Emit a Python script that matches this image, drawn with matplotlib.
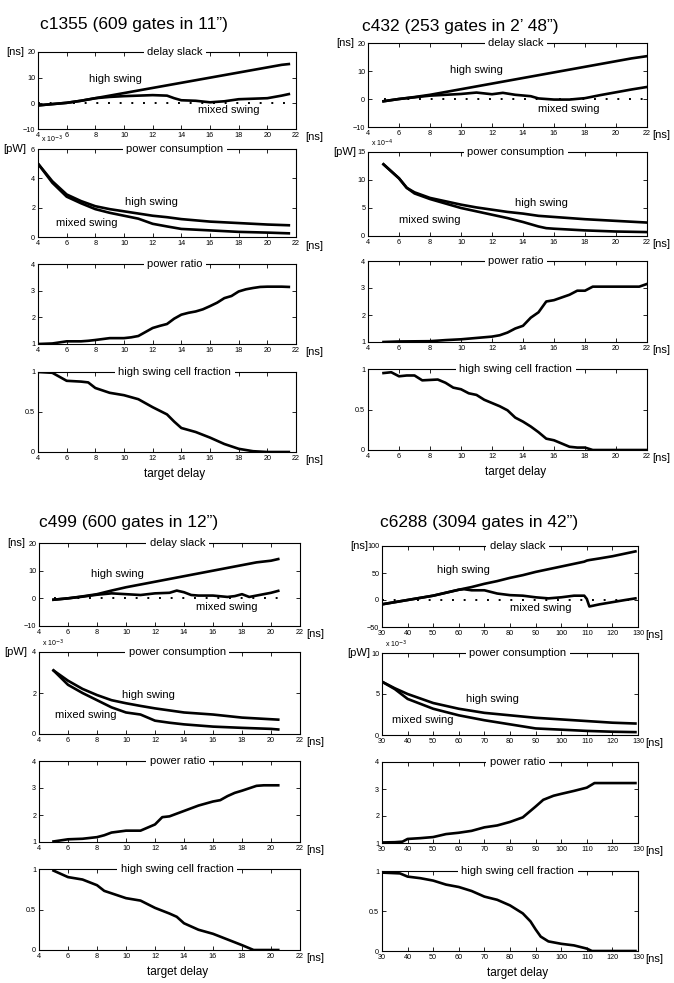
import matplotlib
matplotlib.use('Agg')
import matplotlib.pyplot as plt

plt.rcParams['font.family'] = ['Liberation Sans', 'DejaVu Sans']

# ---- c1355 ----
c1355_slack_x = [4, 5, 6, 7, 8, 9, 10, 11, 12, 13, 13.5, 14, 15, 16, 17, 18, 19, 20, 21, 21.5]
c1355_slack_hi = [-0.8, -0.3, 0.2, 1.0, 2.0, 3.0, 4.0, 5.0, 6.0, 7.0, 7.5, 8.0, 9.0, 10.0, 11.0, 12.0, 13.0, 14.0, 15.0, 15.3]
c1355_slack_mx = [-0.8, -0.3, 0.2, 1.0, 2.0, 2.5, 2.8, 3.0, 3.2, 3.0, 2.0, 1.2, 1.0, 0.4, 0.8, 1.6, 1.8, 2.0, 3.0, 3.6]
c1355_power_x = [4, 5, 6, 7, 8, 9, 10, 11, 12, 13, 14, 16, 18, 20, 21.5]
c1355_power_hi = [5.0, 3.8, 2.9, 2.45, 2.1, 1.9, 1.75, 1.6, 1.45, 1.35, 1.22, 1.05, 0.95, 0.85, 0.8]
c1355_power_mx = [5.0, 3.7, 2.75, 2.3, 1.9, 1.65, 1.45, 1.25, 0.9, 0.72, 0.55, 0.45, 0.35, 0.3, 0.25]
c1355_ratio_x = [4, 5, 6, 7, 7.5, 8, 9, 10, 10.5, 11, 11.5, 12, 12.5, 13, 13.5, 14, 14.5, 15, 15.5,
                 16, 16.5, 17, 17.5, 18, 18.5, 19, 19.5, 20, 21, 21.5]
c1355_ratio = [1.0, 1.02, 1.1, 1.1, 1.12, 1.15, 1.22, 1.22, 1.25, 1.3, 1.45, 1.6, 1.68, 1.75, 1.95, 2.1, 2.17, 2.22, 2.3,
               2.42, 2.55, 2.72, 2.8, 2.97, 3.05, 3.1, 3.14, 3.15, 3.15, 3.14]
c1355_frac_x = [4, 5, 6, 7, 7.5, 8, 9, 10, 11, 12, 13, 13.5, 14, 15, 16, 17, 18, 19, 20, 21.5]
c1355_frac = [1.0, 0.99, 0.89, 0.88, 0.87, 0.8, 0.74, 0.71, 0.66, 0.56, 0.47, 0.38, 0.3, 0.25, 0.18, 0.1, 0.04, 0.01, 0.0, 0.0]

# ---- c432 ----
c432_slack_x = [5, 6, 7, 8, 9, 10, 11, 12, 12.7, 13.5, 14.5, 15, 16, 17, 18, 19, 20, 21, 22]
c432_slack_hi = [-0.8, 0.0, 0.7, 1.5, 2.5, 3.5, 4.5, 5.5, 6.2, 7.0, 8.0, 8.5, 9.5, 10.5, 11.5, 12.5, 13.5, 14.5, 15.3]
c432_slack_mx = [-0.8, 0.0, 0.6, 1.2, 1.5, 1.8, 2.3, 1.7, 2.2, 1.5, 1.0, 0.2, -0.2, -0.2, 0.3, 1.4, 2.4, 3.4, 4.3]
c432_power_x = [5, 6, 6.5, 7, 8, 9, 10, 11, 12, 13, 14, 15, 15.5, 16, 18, 20, 22]
c432_power_hi = [12.8, 10.3, 8.6, 7.8, 6.8, 6.2, 5.6, 5.1, 4.7, 4.3, 4.0, 3.6, 3.5, 3.4, 3.0, 2.7, 2.4]
c432_power_mx = [12.8, 10.3, 8.6, 7.6, 6.6, 5.8, 5.0, 4.4, 3.8, 3.2, 2.5, 1.7, 1.4, 1.3, 1.0, 0.8, 0.7]
c432_ratio_x = [5, 6, 8, 9, 10, 11, 12, 12.5, 13, 13.5, 14, 14.5, 15, 15.5, 16, 17, 17.5, 18, 18.5, 21.5, 22]
c432_ratio = [1.0, 1.02, 1.03, 1.07, 1.1, 1.15, 1.2, 1.25, 1.35, 1.5, 1.6, 1.9, 2.1, 2.5, 2.55, 2.75, 2.9, 2.9, 3.05, 3.05, 3.15]
c432_frac_x = [5, 5.5, 6, 6.5, 7, 7.5, 8.5, 9, 9.5, 10, 10.5, 11, 11.5, 12, 12.5, 13, 13.5, 14,
               14.5, 15, 15.5, 16, 16.5, 17, 17.5, 18, 18.5, 22]
c432_frac = [0.95, 0.96, 0.91, 0.92, 0.92, 0.86, 0.87, 0.83, 0.77, 0.75, 0.7, 0.68, 0.62, 0.58, 0.54, 0.49, 0.4, 0.35,
             0.29, 0.22, 0.14, 0.12, 0.08, 0.04, 0.03, 0.03, 0.0, 0.0]

# ---- c499 ----
c499_slack_x = [5, 6, 7, 8, 9, 10, 11, 12, 13, 13.5, 14, 14.5, 15, 16, 17, 17.5, 18, 18.5, 19, 20, 20.5]
c499_slack_hi = [-0.5, 0.0, 0.7, 1.5, 2.8, 4.0, 5.0, 6.0, 7.0, 7.5, 8.0, 8.5, 9.0, 10.0, 11.0, 11.5, 12.0, 12.5, 13.0, 13.6, 14.2]
c499_slack_mx = [-0.5, 0.0, 0.6, 1.3, 1.8, 1.5, 1.2, 1.8, 2.0, 2.8, 2.2, 1.2, 1.0, 1.0, 0.5, 0.8, 1.5, 0.5, 1.0, 2.0, 2.7]
c499_power_x = [5, 6, 7, 8, 9, 10, 11, 12, 13, 14, 16, 18, 20, 20.5]
c499_power_hi = [3.1, 2.6, 2.2, 1.9, 1.65, 1.5, 1.37, 1.25, 1.15, 1.05, 0.95, 0.8, 0.72, 0.7]
c499_power_mx = [3.1, 2.4, 2.0, 1.65, 1.3, 1.05, 0.95, 0.65, 0.55, 0.47, 0.36, 0.3, 0.25, 0.22]
c499_ratio_x = [5, 6, 7, 8, 8.5, 9, 10, 11, 12, 12.5, 13, 14, 15, 16, 16.5, 17, 17.5, 18, 19, 19.5, 20.5]
c499_ratio = [1.02, 1.1, 1.12, 1.18, 1.25, 1.35, 1.42, 1.42, 1.65, 1.92, 1.95, 2.15, 2.35, 2.5, 2.55, 2.7, 2.82, 2.9, 3.08, 3.1, 3.1]
c499_frac_x = [5, 6, 7, 8, 8.5, 9, 10, 11, 12, 13, 13.5, 14, 15, 16, 17, 18, 18.8, 20.5]
c499_frac = [0.98, 0.9, 0.87, 0.8, 0.73, 0.7, 0.64, 0.61, 0.52, 0.45, 0.41, 0.33, 0.25, 0.2, 0.13, 0.06, 0.0, 0.0]

# ---- c6288 ----
c6288_slack_x = [30, 40, 50, 60, 62, 65, 70, 75, 80, 85, 90, 95, 100, 105, 109, 110, 111, 115, 120, 125, 129]
c6288_slack_hi = [-8, 0, 8, 19, 21, 24, 30, 35, 41, 46, 52, 57, 62, 67, 71, 73, 74, 77, 81, 86, 90]
c6288_slack_mx = [-8, 0, 8, 19, 20, 18, 18, 12, 9, 8, 5, 3, 5, 8, 8, 2, -12, -8, -4, 0, 3]
c6288_power_x = [30, 35, 40, 50, 60, 70, 80, 90, 100, 110, 120, 129]
c6288_power_hi = [6.5, 5.7, 5.0, 3.9, 3.2, 2.7, 2.4, 2.1, 1.9, 1.7, 1.5, 1.4]
c6288_power_mx = [6.5, 5.6, 4.4, 3.2, 2.4, 1.8, 1.3, 0.8, 0.65, 0.5, 0.4, 0.35]
c6288_ratio_x = [30, 35, 38, 40, 45, 50, 55, 60, 65, 70, 75, 80, 85, 90, 93, 97, 100, 105, 110, 113, 129]
c6288_ratio = [1.02, 1.03, 1.05, 1.15, 1.18, 1.22, 1.33, 1.38, 1.45, 1.58, 1.65, 1.78, 1.95, 2.35, 2.6, 2.75, 2.82, 2.93, 3.05, 3.22, 3.22]
c6288_frac_x = [30, 37, 40, 45, 50, 55, 60, 65, 70, 75, 80, 85, 88, 90, 92, 95, 100, 105, 110, 112, 129]
c6288_frac = [0.98, 0.97, 0.93, 0.91, 0.88, 0.83, 0.8, 0.75, 0.68, 0.64, 0.57, 0.47, 0.37, 0.27, 0.18, 0.12, 0.09, 0.07, 0.03, 0.0, 0.0]

W, H = 674, 983

circuits = [
    dict(title='c1355 (609 gates in 11\u201d)', tx=40, ty=25, left=38, right=296, ns_dx=9,
         rows=[(52, 129), (149, 237), (264, 344), (372, 452)],
         xlim=(4, 22), xticks=range(4, 23, 2), slack_ticks=[-10, 0, 10, 20], slack_lim=(-10, 20),
         power_ticks=[0, 2, 4, 6], power_lim=(0, 6), exp='-3',
         slack=(c1355_slack_x, c1355_slack_hi, c1355_slack_mx),
         power=(c1355_power_x, c1355_power_hi, c1355_power_mx),
         ratio=(c1355_ratio_x, c1355_ratio), frac=(c1355_frac_x, c1355_frac),
         lbl=[(0.30, 0.65), (0.74, 0.25), (0.44, 0.40), (0.19, 0.16)]),
    dict(title='c432 (253 gates in 2\u2019 48\u201d)', tx=362, ty=26, left=368, right=647, ns_dx=5,
         rows=[(43, 127), (152, 236), (261, 342), (369, 450)],
         xlim=(4, 22), xticks=range(4, 23, 2), slack_ticks=[-10, 0, 10, 20], slack_lim=(-10, 20),
         power_ticks=[0, 5, 10, 15], power_lim=(0, 15), exp='-4',
         slack=(c432_slack_x, c432_slack_hi, c432_slack_mx),
         power=(c432_power_x, c432_power_hi, c432_power_mx),
         ratio=(c432_ratio_x, c432_ratio), frac=(c432_frac_x, c432_frac),
         lbl=[(0.39, 0.68), (0.72, 0.21), (0.62, 0.39), (0.22, 0.19)]),
    dict(title='c499 (600 gates in 12\u201d)', tx=39, ty=523, left=39, right=300, ns_dx=6,
         rows=[(543, 626), (652, 734), (761, 842), (869, 950)],
         xlim=(4, 22), xticks=range(4, 23, 2), slack_ticks=[-10, 0, 10, 20], slack_lim=(-10, 20),
         power_ticks=[0, 2, 4], power_lim=(0, 4), exp='-3',
         slack=(c499_slack_x, c499_slack_hi, c499_slack_mx),
         power=(c499_power_x, c499_power_hi, c499_power_mx),
         ratio=(c499_ratio_x, c499_ratio), frac=(c499_frac_x, c499_frac),
         lbl=[(0.30, 0.63), (0.72, 0.23), (0.42, 0.48), (0.18, 0.23)]),
    dict(title='c6288 (3094 gates in 42\u201d)', tx=380, ty=522, left=382, right=638, ns_dx=7,
         rows=[(546, 627), (653, 735), (762, 843), (871, 951)],
         xlim=(30, 130), xticks=range(30, 131, 10), slack_ticks=[-50, 0, 50, 100], slack_lim=(-50, 100),
         power_ticks=[0, 5, 10], power_lim=(0, 10), exp='-3',
         slack=(c6288_slack_x, c6288_slack_hi, c6288_slack_mx),
         power=(c6288_power_x, c6288_power_hi, c6288_power_mx),
         ratio=(c6288_ratio_x, c6288_ratio), frac=(c6288_frac_x, c6288_frac),
         lbl=[(0.32, 0.70), (0.62, 0.23), (0.43, 0.44), (0.16, 0.18)]),
]

fig = plt.figure(figsize=(W / 100, H / 100), dpi=100)
LW = 1.9
NAME_FS = 8
CURVE_FS = 8


def side_label(ax, text, xy, dx, ha):
    ax.annotate(text, xy=xy, xycoords='axes fraction', xytext=(dx, 0), textcoords='offset pixels',
                ha=ha, va='center', fontsize=8)


def make_ax(left, right, top, bottom, c, name):
    ax = fig.add_axes([left / W, 1 - bottom / H, (right - left) / W, (bottom - top) / H])
    ax.set_xlim(*c['xlim'])
    ax.set_xticks(list(c['xticks']))
    ax.tick_params(direction='in', length=3, width=0.6, labelsize=5.2, top=True, right=True, pad=2)
    for s in ax.spines.values():
        s.set_linewidth(0.8)
    ax.text(0.53, 1.0, name, transform=ax.transAxes, ha='center', va='center', fontsize=NAME_FS,
            bbox=dict(facecolor='white', edgecolor='none', pad=2.5), zorder=10)
    side_label(ax, '[ns]', (1.0, -0.1), c['ns_dx'], 'left')
    return ax


for c in circuits:
    fig.text(c['tx'] / W, 1 - c['ty'] / H, c['title'], ha='left', va='center', fontsize=12.5)
    l, r = c['left'], c['right']

    # delay slack
    top, bot = c['rows'][0]
    ax = make_ax(l, r, top, bot, c, 'delay slack')
    x, hi, mx = c['slack']
    ax.plot([x[0], x[-1]], [0, 0], color='black', linestyle=(0, (1, 5)), lw=1.4)
    ax.plot(x, hi, color='black', lw=LW)
    ax.plot(x, mx, color='black', lw=LW)
    ax.set_ylim(*c['slack_lim'])
    ax.set_yticks(c['slack_ticks'])
    side_label(ax, '[ns]', (0.0, 1.0), -14, 'right')
    ax.text(*c['lbl'][0], 'high swing', transform=ax.transAxes, ha='center', va='center', fontsize=CURVE_FS)
    ax.text(*c['lbl'][1], 'mixed swing', transform=ax.transAxes, ha='center', va='center', fontsize=CURVE_FS)

    # power consumption
    top, bot = c['rows'][1]
    ax = make_ax(l, r, top, bot, c, 'power consumption')
    x, hi, mx = c['power']
    ax.plot(x, hi, color='black', lw=LW)
    ax.plot(x, mx, color='black', lw=LW)
    ax.set_ylim(*c['power_lim'])
    ax.set_yticks(c['power_ticks'])
    side_label(ax, '[pW]', (0.0, 1.0), -12, 'right')
    ax.text(0.01, 1.04, 'x 10$^{%s}$' % c['exp'], transform=ax.transAxes, ha='left', va='bottom', fontsize=5)
    ax.text(*c['lbl'][2], 'high swing', transform=ax.transAxes, ha='center', va='center', fontsize=CURVE_FS)
    ax.text(*c['lbl'][3], 'mixed swing', transform=ax.transAxes, ha='center', va='center', fontsize=CURVE_FS)

    # power ratio
    top, bot = c['rows'][2]
    ax = make_ax(l, r, top, bot, c, 'power ratio')
    x, y = c['ratio']
    ax.plot(x, y, color='black', lw=LW)
    ax.set_ylim(1, 4)
    ax.set_yticks([1, 2, 3, 4])

    # high swing cell fraction
    top, bot = c['rows'][3]
    ax = make_ax(l, r, top, bot, c, 'high swing cell fraction')
    x, y = c['frac']
    ax.plot(x, y, color='black', lw=LW)
    ax.set_ylim(0, 1)
    ax.set_yticks([0, 0.5, 1])
    ax.set_yticklabels(['0', '0.5', '1'])
    ax.text(0.53, -0.27, 'target delay', transform=ax.transAxes, ha='center', va='center', fontsize=8.5)

fig.savefig('out.png', dpi=100)
